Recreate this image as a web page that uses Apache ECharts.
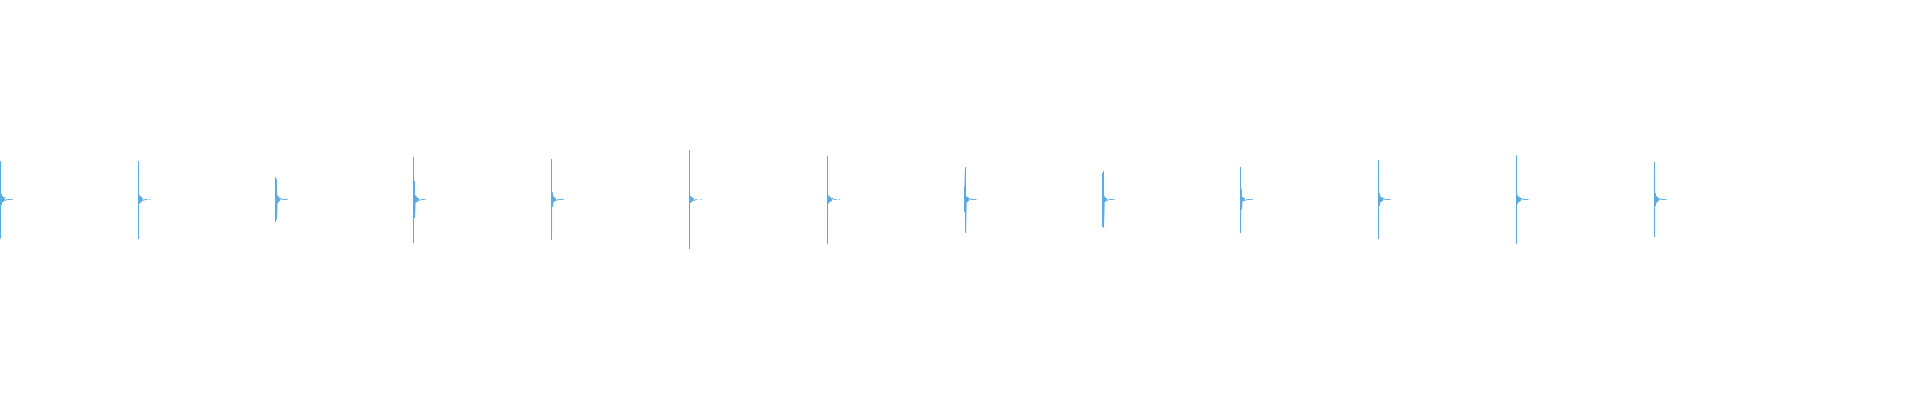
<!DOCTYPE html>
<html>
<head>
<meta charset="utf-8">
<script src="https://cdn.jsdelivr.net/npm/echarts@6/dist/echarts.min.js"></script>
<style>
html,body{margin:0;padding:0;background:#fff;}
#chart{width:1920px;height:400px;}
</style>
</head>
<body>
<div id="chart"></div>
<script>
// Onset time (ms) of each burst
const onsets = [0, 138, 275, 413, 551, 689, 827, 964, 1102, 1240, 1378, 1516, 1654];
// Sample times (ms) relative to each onset
const offsets = [0, 0.02, 0.04, 1, 1.02, 1.8, 2.2, 2.6, 3, 3.5, 4, 4.5, 5, 6, 7, 8, 9, 10, 11, 12];
// Amplitudes of each burst (null = missing sample)
const burst0  = [0.77,-0.78,0,0.11,-0.10,0.07,-0.05,0.04,-0.04,0.05,-0.02,0.02,-0.02,0.01,0,0,0,0,0,0];
const burst1  = [0.77,-0.79,0,0.08,-0.08,0.07,-0.06,0.05,-0.04,0.03,-0.02,0.02,-0.01,0.01,0,0,0,null,0,0];
const burst2  = [0.45,-0.45,0,0.41,-0.40,0.08,-0.07,0.06,-0.05,0.04,-0.03,0.02,-0.02,0.01,0,0,0,0,0,0];
const burst3  = [0.85,-0.87,0,0.37,-0.37,0.08,-0.07,0.06,-0.05,0.04,-0.04,0.03,-0.02,0.01,0,0,0,0,0,0];
const burst4  = [0.81,-0.81,0,0.14,-0.15,0.06,-0.05,0.05,-0.04,0.03,-0.02,0.02,-0.01,0.01,0,0,0,0,0,0];
const burst5  = [0.99,-0.99,0,0.07,-0.07,0.05,-0.05,0.04,-0.03,0.03,-0.02,0.01,-0.01,0,0,0,null,null,0,0];
const burst6  = [0.87,-0.89,0,0.08,-0.08,0.06,-0.05,0.05,-0.04,0.03,-0.03,0.02,-0.01,0.01,0,0,0,null,0,0];
const burst7  = [0.25,-0.25,0,0.65,-0.67,0.06,-0.06,0.05,-0.04,0.04,-0.03,0.02,-0.02,0.01,0,0,0,0,0,0];
const burst8  = [0.53,-0.54,0,0.57,-0.56,0.06,-0.05,0.04,-0.04,0.03,-0.02,0.02,-0.01,0.01,0,0,0,0,0,0];
const burst9  = [0.65,-0.67,0,0.20,-0.20,0.05,-0.04,0.04,-0.03,0.03,-0.02,0.02,-0.01,0.01,0,0,0,0,0,0];
const burst10 = [0.79,-0.79,0,0.12,-0.12,0.06,-0.05,0.05,-0.04,0.04,-0.03,0.02,-0.02,0.01,0,0,0,0,0,0];
const burst11 = [0.89,-0.89,0,0.08,-0.09,0.06,-0.05,0.05,-0.04,0.04,-0.03,0.02,-0.01,0.01,0,0,0,0,0,0];
const burst12 = [0.75,-0.75,0,0.13,-0.13,0.07,-0.06,0.05,-0.04,0.03,-0.03,0.02,-0.01,0.01,0,0,0,0,0,0];

const bursts = [burst0,burst1,burst2,burst3,burst4,burst5,burst6,burst7,burst8,burst9,burst10,burst11,burst12];

const data = [];
bursts.forEach(function (vals, k) {
  vals.forEach(function (v, i) {
    data.push([onsets[k] + offsets[i], v === null ? '-' : v]);
  });
  data.push([onsets[k] + offsets[offsets.length - 1] + 1, '-']);
});

const chart = echarts.init(document.getElementById('chart'));
chart.setOption({
  animation: false,
  backgroundColor: '#ffffff',
  grid: {left: 0, right: 0, top: 0, bottom: 1},
  xAxis: {type: 'value', min: -0.5, max: 1919.5, show: false},
  yAxis: {type: 'value', min: -4, max: 4, show: false},
  series: [{
    type: 'line',
    data: data,
    showSymbol: false,
    connectNulls: false,
    sampling: null,
    clip: false,
    lineStyle: {color: '#58ace2', width: 1, join: 'round', cap: 'butt'},
    itemStyle: {color: '#58ace2'}
  }]
});
</script>
</body>
</html>
